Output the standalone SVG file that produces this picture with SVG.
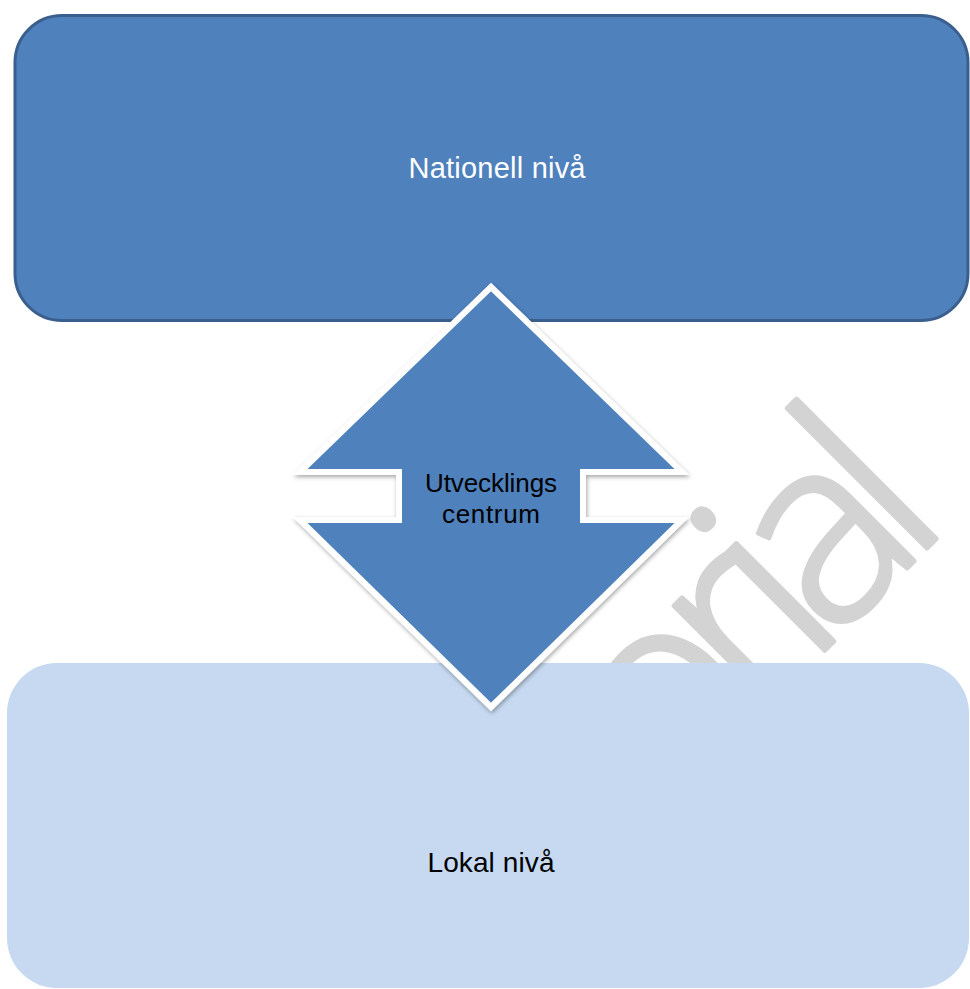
<svg xmlns="http://www.w3.org/2000/svg" width="970" height="989" viewBox="0 0 970 989">
  <style>
    .lbl { font-family: "Liberation Sans", Arial, sans-serif; text-anchor: middle; }
    .wm { font-family: "Open Sans", "Liberation Sans", sans-serif; font-size: 260px; font-weight: 300; fill: #D3D3D3; stroke: #D3D3D3; stroke-width: 5; stroke-linejoin: round; letter-spacing: -26px; }
  </style>
  <defs>
    <filter id="shadow" x="-10%" y="-10%" width="120%" height="120%">
      <feDropShadow dx="1" dy="2" stdDeviation="2" flood-color="#000000" flood-opacity="0.35"/>
    </filter>
  </defs>
  <rect width="970" height="989" fill="#FFFFFF"/>
  <g id="watermark">
    <text class="wm" transform="translate(666,809) rotate(-45)">orial</text>
  </g>
  <g id="connectors"></g>
  <g id="node-national">
    <rect x="15" y="15.5" width="953" height="305" rx="47" ry="47" fill="#4F81BD" stroke="#3A5F8C" stroke-width="3"/>
    <text class="lbl" x="497" y="178" font-size="29" fill="#FFFFFF" textLength="177" lengthAdjust="spacing">Nationell nivå</text>
  </g>
  <g id="node-local">
    <rect x="7" y="663" width="962" height="325" rx="50" ry="50" fill="#C6D9F0"/>
    <text class="lbl" x="491" y="872" font-size="28" fill="#000000" textLength="127" lengthAdjust="spacing">Lokal nivå</text>
  </g>
  <g id="node-center">
    <polygon points="491,287 682,472 583,472 583,520 682,520 491,707 300,520 399,520 399,472 300,472" fill="#4F81BD" stroke="#FFFFFF" stroke-width="6" filter="url(#shadow)"/>
    <text class="lbl" x="491" y="492" font-size="26" fill="#000000" textLength="132" lengthAdjust="spacing">Utvecklings</text>
    <text class="lbl" x="491" y="523" font-size="26" fill="#000000" textLength="98" lengthAdjust="spacing">centrum</text>
  </g>
</svg>
